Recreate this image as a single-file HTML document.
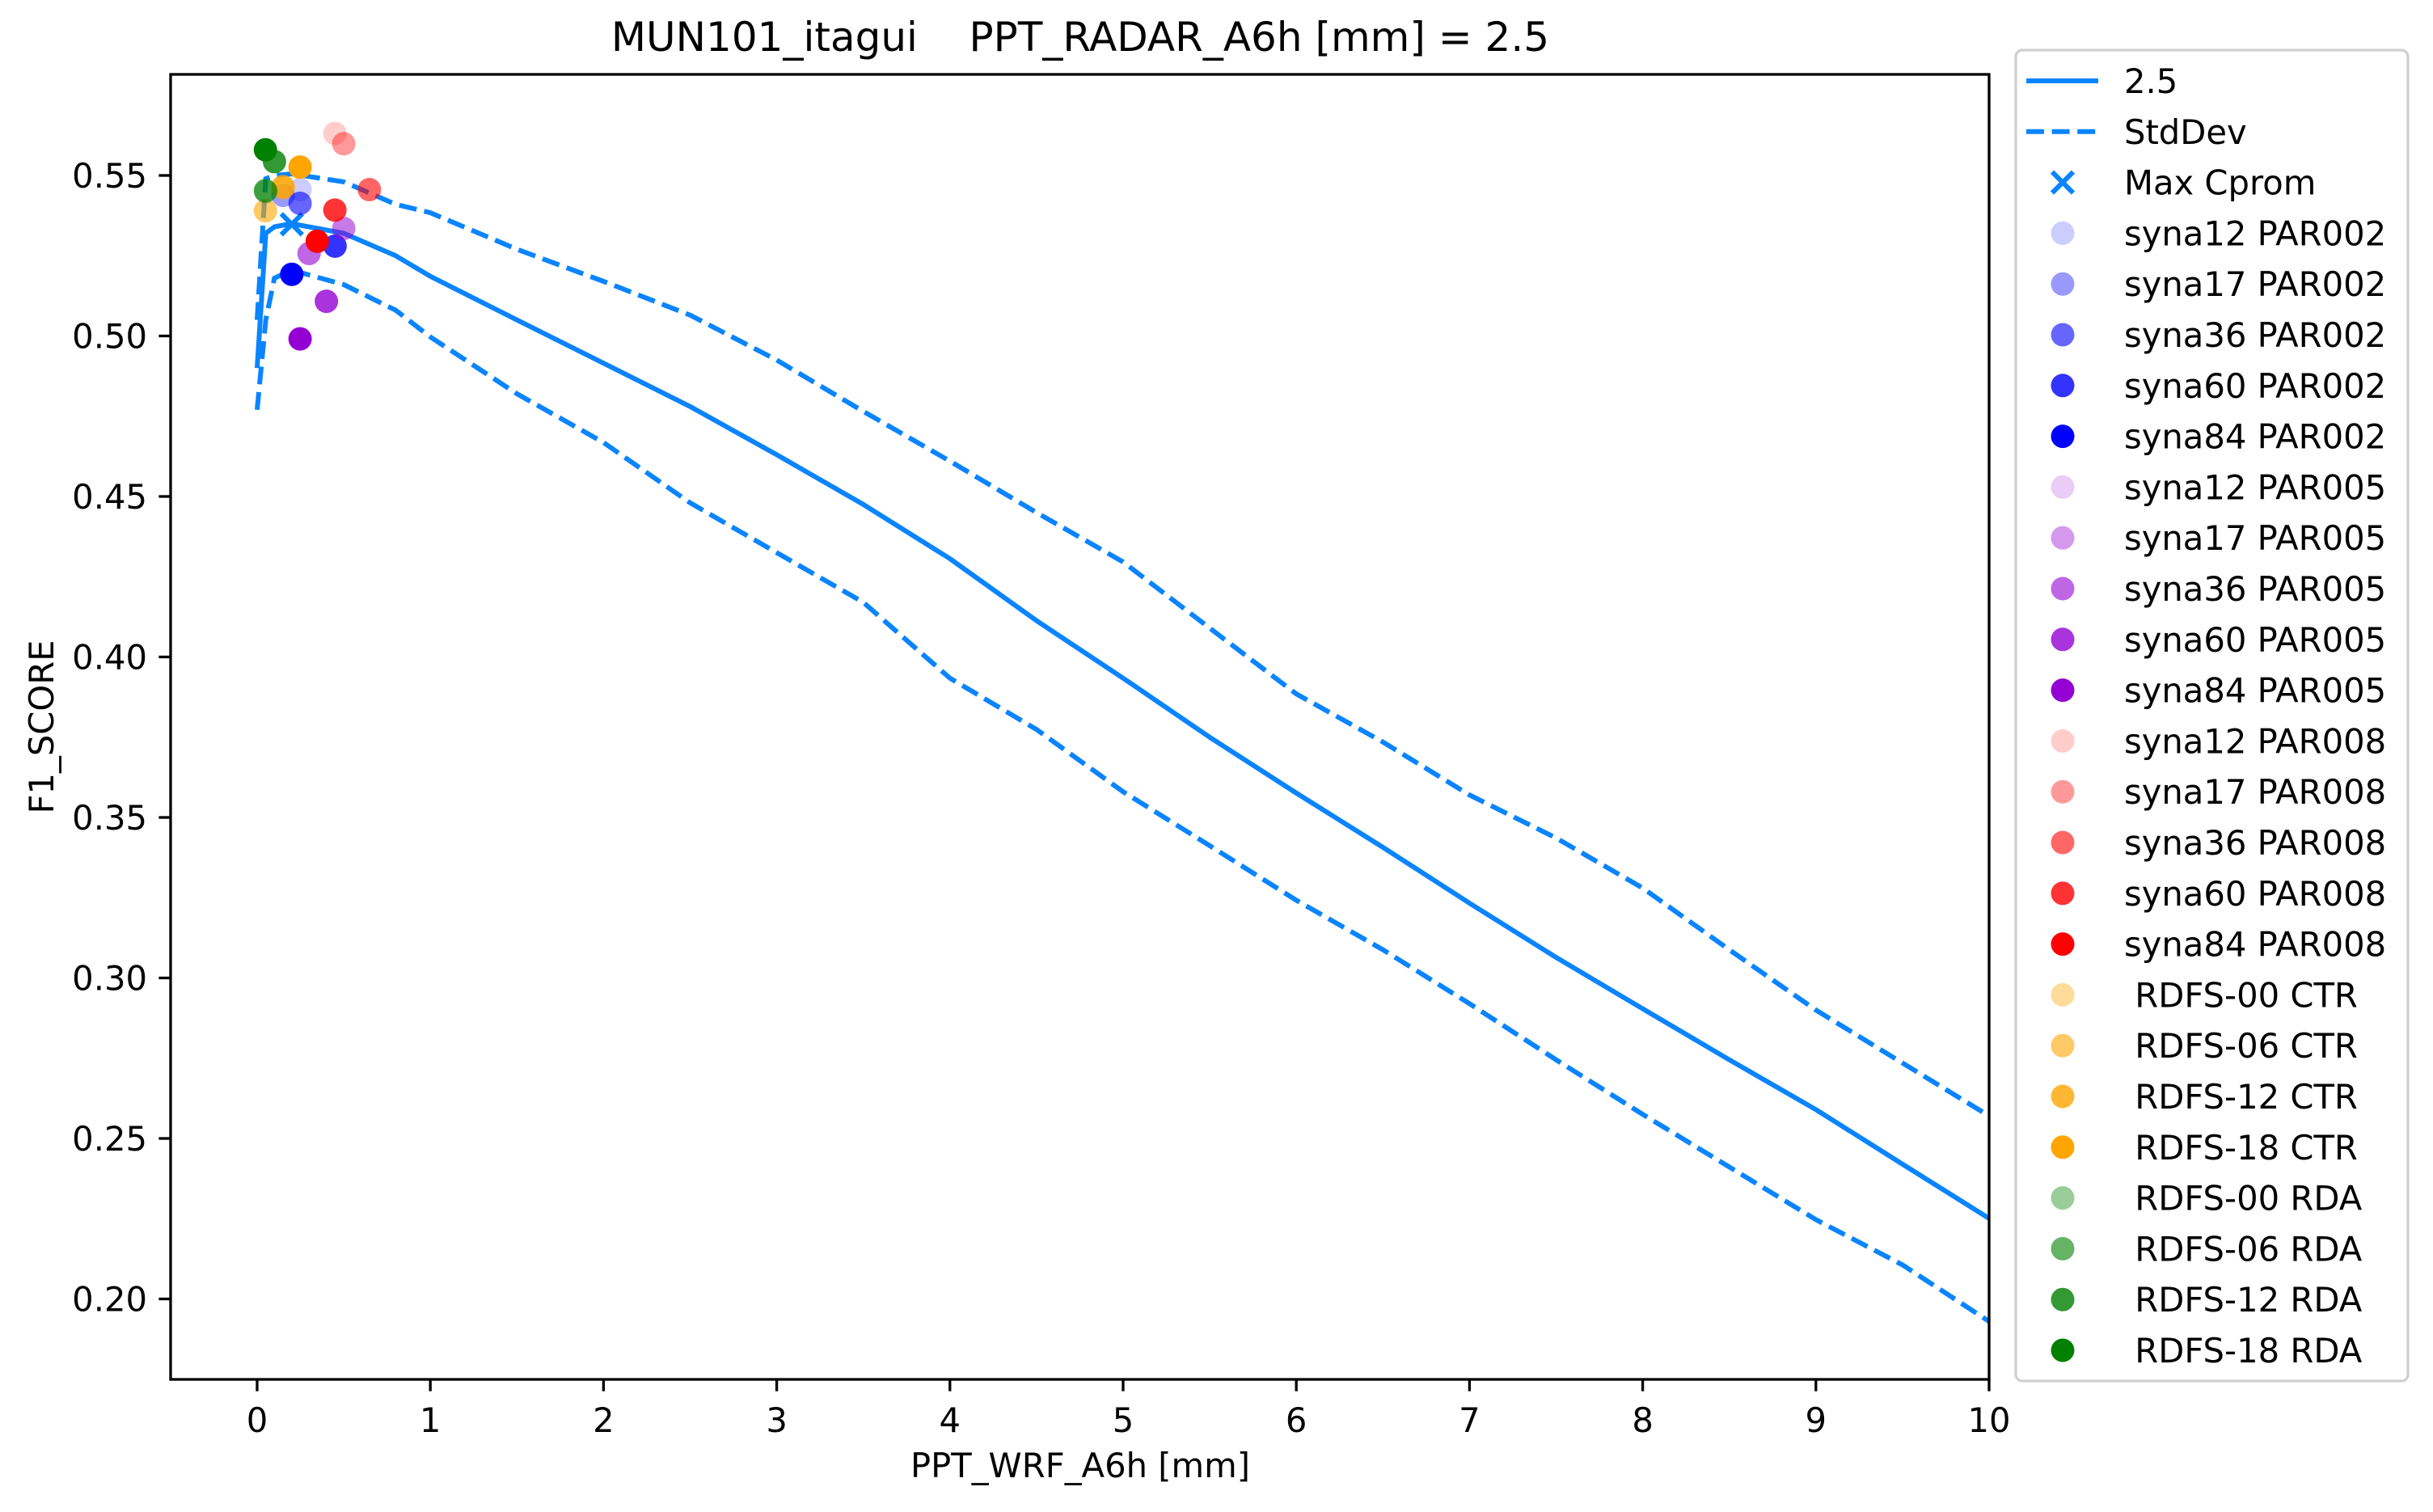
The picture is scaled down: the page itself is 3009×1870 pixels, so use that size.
<!DOCTYPE html>
<html><head><meta charset="utf-8"><style>html,body{margin:0;padding:0;background:#fff}svg{display:block}</style></head>
<body>
<svg id="chart" xmlns="http://www.w3.org/2000/svg" width="3009" height="1870" viewBox="0 0 3009 1870" font-family="'DejaVu Sans','Liberation Sans',sans-serif">
<rect width="3009" height="1870" fill="#fff"/>
<text x="1336" y="63" font-size="50" text-anchor="middle" xml:space="preserve" style="white-space:pre">MUN101_itagui    PPT_RADAR_A6h [mm] = 2.5</text>
<g id="plot"></g>
<g id="axes"></g>
<text x="1336" y="1827" font-size="41.7" text-anchor="middle">PPT_WRF_A6h [mm]</text>
<text x="66" y="899" font-size="41.7" text-anchor="middle" transform="rotate(-90 66 899)">F1_SCORE</text>
<g id="legend"></g>
</svg>
<script>
const xTicks = [0,1,2,3,4,5,6,7,8,9,10];
const yTicks = [0.20,0.25,0.30,0.35,0.40,0.45,0.50,0.55];
const lineX = [0,0.05,0.1,0.2,0.5,0.8,1,1.5,2,2.5,3,3.5,4,4.5,5,5.5,6,6.5,7,7.5,8,8.5,9,9.5,10];
const meanY = [0.490,0.532,0.534,0.535,0.532,0.525,0.5186,0.505,0.4915,0.478,0.463,0.4475,0.4306,0.4113,0.3934,0.375,0.3576,0.3407,0.3233,0.3064,0.2904,0.2745,0.259,0.242,0.2251];
const upperY = [0.505,0.549,0.550,0.5505,0.548,0.541,0.5384,0.527,0.517,0.5065,0.4925,0.4765,0.461,0.445,0.4296,0.409,0.3885,0.3735,0.357,0.3436,0.328,0.3088,0.290,0.2735,0.257];
const lowerY = [0.477,0.505,0.518,0.5205,0.516,0.508,0.4997,0.482,0.4668,0.448,0.4325,0.417,0.3934,0.3774,0.358,0.3412,0.3242,0.3088,0.292,0.2745,0.2575,0.2411,0.2247,0.2106,0.193];
const maxX = [0.2];
const maxY = [0.5348];
const seriesNames = ["syna12 PAR002","syna17 PAR002","syna36 PAR002","syna60 PAR002","syna84 PAR002",
"syna12 PAR005","syna17 PAR005","syna36 PAR005","syna60 PAR005","syna84 PAR005",
"syna12 PAR008","syna17 PAR008","syna36 PAR008","syna60 PAR008","syna84 PAR008",
" RDFS-00 CTR"," RDFS-06 CTR"," RDFS-12 CTR"," RDFS-18 CTR",
" RDFS-00 RDA"," RDFS-06 RDA"," RDFS-12 RDA"," RDFS-18 RDA"];
const pointX = [0.248,0.15,0.248,0.45,0.2, 0.5,0.5,0.30,0.40,0.248, 0.449,0.5,0.648,0.449,0.347, 0.15,0.048,0.15,0.248, 0.05,0.048,0.10,0.048];
const pointY = [0.5456,0.5438,0.5413,0.528,0.5192, 0.5335,0.5335,0.5257,0.5108,0.4991, 0.5631,0.5599,0.5456,0.5392,0.5295, 0.546,0.539,0.5465,0.5526, 0.545,0.5453,0.5543,0.558];
const baseColors = ["#0000ff","#9400d3","#ff0000","#ffa500","#008000"];
const alphas = [0.2,0.4,0.6,0.8,1.0];

const NS="http://www.w3.org/2000/svg";
const L=211,R=2460,T=92,B=1706;
const xs=v=>318+(v-0)*214.2;
const ys=v=>217+(0.55-v)*3970;
const LC="#0a84ff";
function mk(tag,attrs,parent){const e=document.createElementNS(NS,tag);for(const k in attrs)e.setAttribute(k,attrs[k]);parent.appendChild(e);return e;}
function colorOf(k){if(k<15)return [baseColors[Math.floor(k/5)],alphas[k%5]];return [baseColors[k<19?3:4],alphas[(k-15)%4+1]];}
const plot=document.getElementById('plot'),axes=document.getElementById('axes'),leg=document.getElementById('legend');
function pathOf(xa,ya){return xa.map((x,i)=>(i?'L':'M')+xs(x).toFixed(1)+' '+ys(ya[i]).toFixed(1)).join(' ');}
const clip=mk('clipPath',{id:'pc'},plot);mk('rect',{x:L,y:T,width:R-L,height:B-T},clip);
const g=mk('g',{'clip-path':'url(#pc)'},plot);
let p=mk('path',{d:pathOf(lineX,meanY),fill:'none',stroke:LC,'stroke-width':6,'stroke-linejoin':'round'},g);


p=mk('path',{d:pathOf(lineX,upperY),fill:'none',stroke:LC,'stroke-width':6,'stroke-dasharray':'22 9.6'},g);


p=mk('path',{d:pathOf(lineX,lowerY),fill:'none',stroke:LC,'stroke-width':6,'stroke-dasharray':'22 9.6'},g);


for(let i=0;i<maxX.length;i++){const cx=xs(maxX[i]),cy=ys(maxY[i]);
 const m=mk('path',{d:`M${cx-13} ${cy-13}L${cx+13} ${cy+13}M${cx-13} ${cy+13}L${cx+13} ${cy-13}`,stroke:LC,'stroke-width':6},g);
 
 }
for(let i=0;i<pointX.length;i++){
 const [col,al]=colorOf(i);
 const c=mk('circle',{cx:xs(pointX[i]),cy:ys(pointY[i]),r:14.5,fill:col,'fill-opacity':al},g);
 
 
}
mk('rect',{x:L,y:T,width:R-L,height:B-T,fill:'none',stroke:'#000','stroke-width':3.3},axes);
xTicks.forEach(v=>{const x=xs(v);mk('line',{x1:x,x2:x,y1:B,y2:B+14.6,stroke:'#000','stroke-width':3.3},axes);
 const t=mk('text',{x:x,y:1771,'font-size':41.7,'text-anchor':'middle'},axes);t.textContent=String(v);
 
 });
yTicks.forEach(v=>{const y=ys(v);mk('line',{x1:L-14.6,x2:L,y1:y,y2:y,stroke:'#000','stroke-width':3.3},axes);
 const t=mk('text',{x:182,y:y+15,'font-size':41.7,'text-anchor':'end'},axes);t.textContent=v.toFixed(2);
 
 });
const lb=mk('rect',{x:2493,y:62,width:485,height:1646,rx:8,fill:'#fff','fill-opacity':0.8,stroke:'#d0d0d0','stroke-width':3.3},leg);


const labels=["2.5","StdDev","Max Cprom"].concat(seriesNames);
labels.forEach((lab,i)=>{const cy=100+i*62.8;
 const ge=mk('g',{},leg);
 
 
 if(i===0)mk('line',{x1:2506,x2:2595,y1:cy,y2:cy,stroke:LC,'stroke-width':6},ge);
 else if(i===1)mk('line',{x1:2506,x2:2595,y1:cy,y2:cy,stroke:LC,'stroke-width':6,'stroke-dasharray':'22 9.6'},ge);
 else if(i===2)mk('path',{d:`M${2551-13} ${cy-13}L${2551+13} ${cy+13}M${2551-13} ${cy+13}L${2551+13} ${cy-13}`,stroke:LC,'stroke-width':6},ge);
 else{const [col,al]=colorOf(i-3);mk('circle',{cx:2551,cy:cy,r:14.5,fill:col,'fill-opacity':al},ge);}
 const t=mk('text',{x:2627,y:cy+15,'font-size':41.7},ge);t.textContent=lab;t.setAttribute('xml:space','preserve');t.style.whiteSpace='pre';
});
</script>
</body></html>
